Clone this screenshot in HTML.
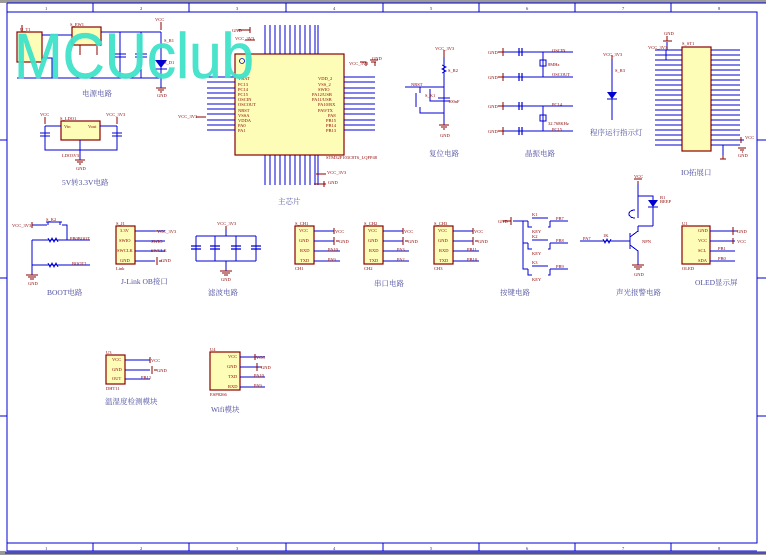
<!DOCTYPE html>
<html><head><meta charset="utf-8"><style>
html,body{margin:0;padding:0;background:#fff;width:766px;height:555px;overflow:hidden}
svg{display:block}
.w{stroke:#0000d0;stroke-width:1;fill:none;shape-rendering:crispEdges}
.r{stroke:#8b0000;stroke-width:1;fill:none;shape-rendering:crispEdges}
.b{fill:#fefdb8;stroke:#8b0000;stroke-width:1.2}
.t{font-family:"Liberation Serif",serif;font-size:4.5px;fill:#8b0000}
.tb{font-family:"Liberation Serif",serif;font-size:4.5px;fill:#1a1a80}
.cn{font-family:"Liberation Serif","Noto Serif CJK SC",serif;font-size:7.5px;fill:#5050a0}
</style></head><body>
<svg width="766" height="555" viewBox="0 0 766 555" xmlns="http://www.w3.org/2000/svg">
<rect x="0" y="0" width="766" height="3" fill="#9a9a9a"/>
<rect x="0" y="551" width="766" height="4" fill="#9a9a9a"/>
<!-- frame -->
<path class="w" d="M7 12H757V543H7Z"/>
<path class="w" d="M7 3H766M7 3V12M5 553H766" />
<path class="w" d="M93 3V12M189 3V12M286 3V12M383 3V12M479 3V12M575 3V12M671 3V12M93 543V551M189 543V551M286 543V551M383 543V551M479 543V551M575 543V551M671 543V551M7 543V551M7 551H757"/>
<path class="w" d="M0 140H7M0 278H7M0 416H7M757 140H766M757 278H766M757 416H766"/>
<g class="tb" fill="#8080ff">
<text x="45" y="10">1</text><text x="140" y="10">2</text><text x="236" y="10">3</text><text x="333" y="10">4</text><text x="430" y="10">5</text><text x="526" y="10">6</text><text x="622" y="10">7</text><text x="718" y="10">8</text>
<text x="45" y="550">1</text><text x="140" y="550">2</text><text x="236" y="550">3</text><text x="333" y="550">4</text><text x="430" y="550">5</text><text x="526" y="550">6</text><text x="622" y="550">7</text><text x="718" y="550">8</text>
</g>

<!-- power circuit -->
<rect class="b" x="17" y="32" width="25" height="30"/>
<rect class="b" x="72" y="27" width="29" height="18"/>
<path class="w" d="M42 35H72M101 32H161M17 78H161M120 32V78M141 32V78M161 32V88M42 58H52V78"/>
<path class="w" d="M114 54h12M114 57h12M135 54h12M135 57h12" stroke-width="1.5"/>
<path d="M155 60h12l-6 8z" fill="#0000d0"/><path class="w" d="M155 69h12"/>
<path class="r" d="M161 22V30M22 25V32M22 62V70M80 45V55M97 45V55M156 88h10M158 90h6M160 92h2"/>
<text class="t" x="155" y="21">VCC</text><text class="t" x="157" y="97">GND</text>
<text class="t" x="70" y="26">S_EW1</text><text class="t" x="20" y="31">U_T1</text><text class="t" x="164" y="42">S_R1</text><text class="t" x="164" y="64">S_D1</text>
<text class="cn" x="82" y="96">电源电路</text>

<!-- LDO -->
<rect class="b" x="61" y="121" width="39" height="19"/>
<path class="w" d="M45 126H61M100 126H117M45 126V150H117V126M80 140V160M40 133h10M40 136h10M112 133h10M112 136h10"/>
<path class="r" d="M45 117V124M117 117V124M75 160h10M77 162h6M79 164h2"/>
<text class="t" x="40" y="116">VCC</text><text class="t" x="106" y="116">VCC_3V3</text><text class="t" x="60" y="120">S_LDO1</text>
<text class="t" x="64" y="128">Vin</text><text class="t" x="88" y="128">Vout</text><text class="t" x="62" y="157">LDO3V3</text><text class="t" x="76" y="170">GND</text>
<text class="cn" x="62" y="185">5V转3.3V电路</text>

<!-- MCU -->
<rect class="b" x="235" y="54" width="109" height="101"/>
<circle cx="242" cy="61" r="2.5" fill="none" stroke="#0000d0" stroke-width="0.8"/>
<path class="w" d="M265 25V54M270 25V54M275 25V54M280 25V54M285 25V54M290 25V54M295 25V54M300 25V54M305 25V54M310 25V54M315 25V54M318 25V54
M265 155V185M270 155V185M275 155V185M280 155V185M285 155V185M290 155V185M295 155V185M300 155V185M305 155V185M310 155V185M315 155V185M318 155V185
M207 77h28M207 82h28M207 88h28M207 93h28M207 98h28M207 104h28M207 109h28M207 114h28M207 120h28M207 125h28M207 130h28
M344 77h31M344 82h31M344 88h31M344 93h31M344 98h31M344 104h31M344 109h31M344 114h31M344 120h31M344 125h31M344 130h31"/>
<path class="r" d="M250 30h-12M250 27v6M255 40h-10M366 66v-4h-6M375 66v-4h-4v0M370 60h8M372 62h4M196 117h10M326 174h-10M324 181v6M326 184h-12"/>
<text class="t" x="232" y="32">GND</text><text class="t" x="235" y="40">VCC_3V3</text><text class="t" x="349" y="65">VCC_3V3</text><text class="t" x="372" y="60">GND</text>
<text class="t" x="178" y="118">VCC_3V3</text><text class="t" x="327" y="174">VCC_3V3</text><text class="t" x="328" y="184">GND</text>
<text class="t" x="326" y="159">STM32F103C8T6_LQFP48</text>
<g class="t" font-size="4"><text x="238" y="80">VBAT</text><text x="238" y="86">PC13</text><text x="238" y="91">PC14</text><text x="238" y="96">PC15</text><text x="238" y="101">OSCIN</text><text x="238" y="106">OSCOUT</text><text x="238" y="112">NRST</text><text x="238" y="117">VSSA</text><text x="238" y="122">VDDA</text><text x="238" y="127">PA0</text><text x="238" y="132">PA1</text>
<text x="318" y="80">VDD_2</text><text x="318" y="86">VSS_2</text><text x="318" y="91">SWIO</text><text x="312" y="96">PA12/USB</text><text x="312" y="101">PA11/USB</text><text x="318" y="106">PA10/RX</text><text x="318" y="112">PA9/TX</text><text x="328" y="117">PA8</text><text x="326" y="122">PB15</text><text x="326" y="127">PB14</text><text x="326" y="132">PB13</text></g>
<text class="cn" x="278" y="204">主芯片</text>

<!-- reset -->
<path class="w" d="M444 57V125M405 87H444M420 87V93M420 107V113H444M416 93V107M430 89V101h14M438 98h12M438 101h12"/>
<path class="w" d="M442 65l4 2-4 2 4 2-4 2" />
<path class="r" d="M444 50v7M439 125h10M441 127h6M443 129h2"/>
<text class="t" x="435" y="50">VCC_3V3</text><text class="t" x="411" y="86">NRST</text><text class="t" x="440" y="137">GND</text><text class="t" x="425" y="97">S_K1</text><text class="t" x="448" y="72">S_R2</text><text class="t" x="448" y="103">100nF</text>
<text class="cn" x="429" y="156">复位电路</text>

<!-- crystal -->
<path class="w" d="M503 52H573M503 77H573M503 106H573M503 131H573M543 52V77M543 106V131"/>
<path d="M519 48v8M522 48v8M519 73v8M522 73v8M519 102v8M522 102v8M519 127v8M522 127v8" stroke="#0000d0" stroke-width="1.2"/>
<rect x="540" y="60" width="6" height="6" fill="none" stroke="#0000d0"/><rect x="540" y="115" width="6" height="6" fill="none" stroke="#0000d0"/>
<path class="r" d="M503 48v8M498 52h5M503 73v8M498 77h5M503 102v8M498 106h5M503 127v8M498 131h5"/>
<text class="t" x="488" y="54">GND</text><text class="t" x="488" y="79">GND</text><text class="t" x="488" y="108">GND</text><text class="t" x="488" y="133">GND</text>
<text class="t" x="552" y="52">OSCIN</text><text class="t" x="552" y="76">OSCOUT</text><text class="t" x="552" y="106">PC14</text><text class="t" x="552" y="131">PC15</text>
<text class="t" x="548" y="66">8MHz</text><text class="t" x="548" y="125">32.768KHz</text>
<text class="cn" x="525" y="156">晶振电路</text>

<!-- LED indicator -->
<path class="w" d="M612 58V120M607 99h10"/>
<path d="M607 92h10l-5 7z" fill="#0000d0"/>
<path class="r" d="M612 55v4"/>
<text class="t" x="603" y="56">VCC_3V3</text><text class="t" x="615" y="72">S_R3</text>
<text class="cn" x="590" y="135">程序运行指示灯</text>

<!-- IO header -->
<rect class="b" x="682" y="47" width="29" height="104"/>
<path class="w" d="M655 50h27M655 55h27M655 60h27M655 65h27M655 70h27M655 75h27M655 80h27M655 85h27M655 90h27M655 95h27M655 100h27M655 105h27M655 110h27M655 115h27M655 120h27M655 125h27M655 130h27M655 135h27M655 140h27M655 145h27
M711 50h29M711 55h29M711 60h29M711 65h29M711 70h29M711 75h29M711 80h29M711 85h29M711 90h29M711 95h29M711 100h29M711 105h29M711 110h29M711 115h29M711 120h29M711 125h29M711 130h29M711 135h29M711 140h29M711 145h29M667 42v8M666 50v10h16M711 140h33M711 145h12v10"/>
<path class="r" d="M663 41h9M667 36v5M741 137v6M738 148h8M740 150h4M742 152h1M723 155v4M720 159h6"/>
<text class="t" x="664" y="35">GND</text><text class="t" x="648" y="49">VCC_3V3</text><text class="t" x="682" y="45">S_ST1</text><text class="t" x="745" y="139">VCC</text><text class="t" x="738" y="157">GND</text>
<text class="cn" x="681" y="175">IO拓展口</text>

<!-- BOOT -->
<path class="w" d="M32 225H47M62 225H67V240H90M32 240H67M32 240V265H90M32 265V275"/>
<path class="w" d="M46 222h16M48 225v-3M60 225v-3" stroke-width="1.5"/>
<path class="w" d="M48 238l2 4 2-4 2 4 2-4 2 4M48 263l2 4 2-4 2 4 2-4 2 4" stroke-width="0.8"/>
<path class="r" d="M32 222v6M26 275h12M28 277h8M30 279h4"/>
<text class="t" x="12" y="227">VCC_3V3</text><text class="t" x="46" y="221">S_K2</text><text class="t" x="70" y="240">PB0BOOT</text><text class="t" x="72" y="265">BOOT1</text><text class="t" x="28" y="285">GND</text>
<text class="cn" x="47" y="295">BOOT电路</text>

<!-- J-Link -->
<rect class="b" x="116" y="226" width="19" height="38"/>
<path class="w" d="M135 231h30M135 241h30M135 251h30M135 261h20"/>
<path class="r" d="M155 231h3M157 257v8M159 261h3"/>
<g class="t" font-size="4"><text x="120" y="232">3.3V</text><text x="119" y="242">SWIO</text><text x="117" y="252">SWCLK</text><text x="120" y="262">GND</text></g>
<text class="t" x="157" y="233">VCC_3V3</text><text class="t" x="151" y="243">SWIO</text><text class="t" x="151" y="252">SWCLK</text><text class="t" x="161" y="262">GND</text><text class="t" x="116" y="225">S_J1</text><text class="t" x="116" y="270">Link</text>
<text class="cn" x="121" y="284">J-Link OB接口</text>

<!-- filter -->
<path class="w" d="M196 236H256M196 261H256M196 236V261M215 236V261M236 236V261M256 236V261M226 228V236M226 261V271"/>
<path d="M191 246h10M191 249h10M210 246h10M210 249h10M231 246h10M231 249h10M251 246h10M251 249h10" stroke="#0000d0" stroke-width="1.3"/>
<path class="r" d="M226 226v3M220 271h12M222 273h8M224 275h4"/>
<text class="t" x="217" y="225">VCC_3V3</text><text class="t" x="221" y="281">GND</text>
<text class="cn" x="208" y="295">滤波电路</text>

<!-- serial CH1-3 -->
<g>
<rect class="b" x="295" y="226" width="19" height="38"/><rect class="b" x="364" y="226" width="19" height="38"/><rect class="b" x="434" y="226" width="19" height="38"/>
<path class="w" d="M314 231h20M314 241h20M314 251h26M314 261h26M383 231h20M383 241h20M383 251h26M383 261h26M453 231h20M453 241h20M453 251h26M453 261h26"/>
<path class="r" d="M334 228v6M334 237v8M336 241h3M403 228v6M403 237v8M405 241h3M473 228v6M473 237v8M475 241h3"/>
<g class="t" font-size="4"><text x="299" y="232">VCC</text><text x="299" y="242">GND</text><text x="300" y="252">RXD</text><text x="300" y="262">TXD</text>
<text x="368" y="232">VCC</text><text x="368" y="242">GND</text><text x="369" y="252">RXD</text><text x="369" y="262">TXD</text>
<text x="438" y="232">VCC</text><text x="438" y="242">GND</text><text x="439" y="252">RXD</text><text x="439" y="262">TXD</text></g>
<text class="t" x="335" y="233">VCC</text><text class="t" x="339" y="243">GND</text><text class="t" x="328" y="251">PA10</text><text class="t" x="328" y="261">PA9</text>
<text class="t" x="404" y="233">VCC</text><text class="t" x="408" y="243">GND</text><text class="t" x="397" y="251">PA3</text><text class="t" x="397" y="261">PA2</text>
<text class="t" x="474" y="233">VCC</text><text class="t" x="478" y="243">GND</text><text class="t" x="467" y="251">PB11</text><text class="t" x="467" y="261">PB10</text>
<text class="t" x="295" y="225">S_CH1</text><text class="t" x="364" y="225">S_CH2</text><text class="t" x="434" y="225">S_CH3</text>
<text class="t" x="295" y="270">CH1</text><text class="t" x="364" y="270">CH2</text><text class="t" x="434" y="270">CH3</text>
</g>
<text class="cn" x="374" y="286">串口电路</text>

<!-- keys -->
<path class="w" d="M513 221H528M550 221H568M523 221V269H528M523 243H528M550 243H568M550 269H568"/>
<path class="w" d="M532 218h16M532 240h16M532 266h16M528 221v6h4M548 227h2v-6M528 243v6h4M548 249h2v-6M528 269v6h4M548 275h2v-6" stroke-width="1.2"/>
<path class="r" d="M511 217v8M503 221h8"/>
<text class="t" x="498" y="223">GND</text><text class="t" x="532" y="216">K1</text><text class="t" x="532" y="238">K2</text><text class="t" x="532" y="264">K3</text>
<text class="t" x="532" y="233">KEY</text><text class="t" x="532" y="255">KEY</text><text class="t" x="532" y="281">KEY</text>
<text class="t" x="556" y="220">PB7</text><text class="t" x="556" y="242">PB8</text><text class="t" x="556" y="268">PB9</text>
<text class="cn" x="500" y="295">按键电路</text>

<!-- buzzer alarm -->
<path class="w" d="M638 183V218M638 196H653V226M638 226H653M638 226V232M630 233V249M630 241H580M630 237l8-6M630 245l8 6V265"/>
<path d="M648 200h10l-5 7z" fill="#0000d0"/><path class="w" d="M648 207h10"/>
<path class="w" d="M635 210c-8 0-8 8 0 8"/>
<path class="r" d="M638 181v3M634 179h8M632 265h12M634 267h8M636 269h4"/>
<path class="w" d="M603 239l2 4 2-4 2 4 2-4" stroke-width="0.8"/>
<text class="t" x="634" y="178">VCC</text><text class="t" x="660" y="203">BEEP</text><text class="t" x="660" y="199">B1</text><text class="t" x="642" y="243">NPN</text><text class="t" x="583" y="240">PA7</text><text class="t" x="634" y="276">GND</text><text class="t" x="603" y="237">1K</text>
<text class="cn" x="616" y="295">声光报警电路</text>

<!-- OLED -->
<rect class="b" x="682" y="226" width="28" height="38"/>
<path class="w" d="M710 231h25M710 241h25M710 251h25M710 261h25"/>
<path class="r" d="M733 227v8M735 231h3M733 238v6"/>
<g class="t" font-size="4"><text x="698" y="232">GND</text><text x="698" y="242">VCC</text><text x="698" y="252">SCL</text><text x="698" y="262">SDA</text></g>
<text class="t" x="737" y="233">GND</text><text class="t" x="737" y="243">VCC</text><text class="t" x="718" y="250">PB1</text><text class="t" x="718" y="260">PB0</text>
<text class="t" x="682" y="225">U1</text><text class="t" x="682" y="270">OLED</text>
<text class="cn" x="695" y="285">OLED显示屏</text>

<!-- DHT11 -->
<rect class="b" x="106" y="355" width="19" height="29"/>
<path class="w" d="M125 360h25M125 370h25M125 379h25"/>
<path class="r" d="M150 357v6M152 366v8M154 370h3"/>
<g class="t" font-size="4"><text x="112" y="361">VCC</text><text x="112" y="371">GND</text><text x="112" y="380">OUT</text></g>
<text class="t" x="151" y="362">VCC</text><text class="t" x="157" y="372">GND</text><text class="t" x="141" y="379">PB12</text><text class="t" x="106" y="354">U3</text><text class="t" x="106" y="390">DHT11</text>
<text class="cn" x="105" y="404">温湿度检测模块</text>

<!-- WiFi -->
<rect class="b" x="210" y="352" width="30" height="38"/>
<path class="w" d="M240 357h25M240 367h20M240 377h25M240 387h25"/>
<path class="r" d="M255 354v6M257 363v8M259 367h3"/>
<g class="t" font-size="4"><text x="228" y="358">VCC</text><text x="227" y="368">GND</text><text x="228" y="378">TXD</text><text x="228" y="388">RXD</text></g>
<text class="t" x="256" y="359">VCC</text><text class="t" x="261" y="369">GND</text><text class="t" x="254" y="377">PA10</text><text class="t" x="254" y="387">PA9</text>
<text class="t" x="210" y="351">U4</text><text class="t" x="210" y="396">ESP8266</text>
<text class="cn" x="211" y="412">Wifi模块</text>

<!-- watermark -->
<text x="14" y="78" font-family="Liberation Sans, sans-serif" font-size="64" textLength="240" lengthAdjust="spacingAndGlyphs" fill="#3fe3c8" fill-opacity="0.95" stroke="#3fe3c8" stroke-width="0.5">MCUclub</text>
</svg>
</body></html>
